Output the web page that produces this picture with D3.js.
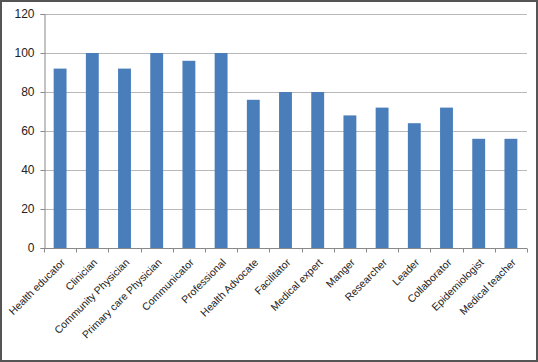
<!DOCTYPE html>
<html lang="en">
<head>
  <meta charset="UTF-8">
  <title>Roles bar chart</title>
  <script src="https://cdn.jsdelivr.net/npm/d3@7"></script>
  <style>
    html, body { margin: 0; padding: 0; background: #fff; }
    svg { display: block; }
    .tick text { font-family: "Liberation Sans", Arial, sans-serif; fill: #222; }
  </style>
</head>
<body>
<div class="chart-area"></div>
<script>
  const categories = ['Health educator', 'Clinician', 'Community Physician', 'Primary care Physician',
    'Communicator', 'Professional', 'Health Advocate', 'Facilitator', 'Medical expert', 'Manger',
    'Researcher', 'Leader', 'Collaborator', 'Epidemiologist', 'Medical teacher']
  const values = [92, 100, 92, 100, 96, 100, 76, 80, 80, 68, 72, 64, 72, 56, 56]
  const yTicks = [0, 20, 40, 60, 80, 100, 120]

  const width = 538, height = 362
  const margin = { top: 14, right: 11, bottom: 114, left: 44 }

  const svg = d3.select('.chart-area')
    .append('svg')
    .attr('width', width)
    .attr('height', height)

  // outer frame
  svg.append('rect')
    .attr('x', 1).attr('y', 1)
    .attr('width', width - 2).attr('height', height - 2)
    .attr('fill', '#fff')
    .attr('stroke', '#555')
    .attr('stroke-width', 2)

  const x = d3.scaleBand()
    .domain(categories)
    .range([margin.left, width - margin.right])
    .paddingInner(0.6)
    .paddingOuter(0.3)

  const y = d3.scaleLinear()
    .domain([0, 120])
    .range([height - margin.bottom, margin.top])

  // grid lines
  svg.append('g')
    .selectAll('line')
    .data(yTicks.slice(1))
    .join('line')
    .attr('x1', margin.left)
    .attr('x2', width - margin.right)
    .attr('y1', d => y(d) + 0.5)
    .attr('y2', d => y(d) + 0.5)
    .attr('stroke', '#b8b8b8')
    .attr('stroke-width', 1)

  // bars
  svg.append('g')
    .selectAll('rect')
    .data(values)
    .join('rect')
    .attr('x', (d, i) => x(categories[i]))
    .attr('y', d => y(d))
    .attr('width', x.bandwidth())
    .attr('height', d => y(0) - y(d))
    .attr('fill', '#4a7ebb')

  // y axis
  const yAxis = svg.append('g')
    .attr('class', 'y-axis')
    .attr('transform', `translate(${margin.left + 0.5},0)`)
    .call(d3.axisLeft(y).tickValues(yTicks).tickSize(4).tickPadding(6))
  yAxis.select('.domain').attr('stroke', '#888')
  yAxis.selectAll('.tick line').attr('stroke', '#888')
  yAxis.selectAll('.tick text').attr('font-size', 12)

  // x axis: ticks between categories
  const step = x.step()
  const xg = svg.append('g')
    .attr('class', 'x-axis')
    .attr('transform', `translate(0,${y(0) + 0.5})`)
  xg.append('line')
    .attr('x1', margin.left).attr('x2', width - margin.right)
    .attr('stroke', '#888')
  const edges = d3.range(categories.length + 1).map(i => margin.left + i * (width - margin.left - margin.right) / categories.length)
  xg.selectAll('.sep')
    .data(edges)
    .join('line')
    .attr('class', 'sep')
    .attr('x1', d => Math.round(d) + 0.5).attr('x2', d => Math.round(d) + 0.5)
    .attr('y1', 0).attr('y2', 4)
    .attr('stroke', '#888')

  xg.selectAll('.tick')
    .data(categories)
    .join('g')
    .attr('class', 'tick')
    .attr('transform', d => `translate(${x(d) + x.bandwidth() / 2 + 3},12) rotate(-45)`)
    .append('text')
    .attr('text-anchor', 'end')
    .attr('font-size', 10.5)
    .attr('dy', '0.35em')
    .text(d => d)
</script>
</body>
</html>
